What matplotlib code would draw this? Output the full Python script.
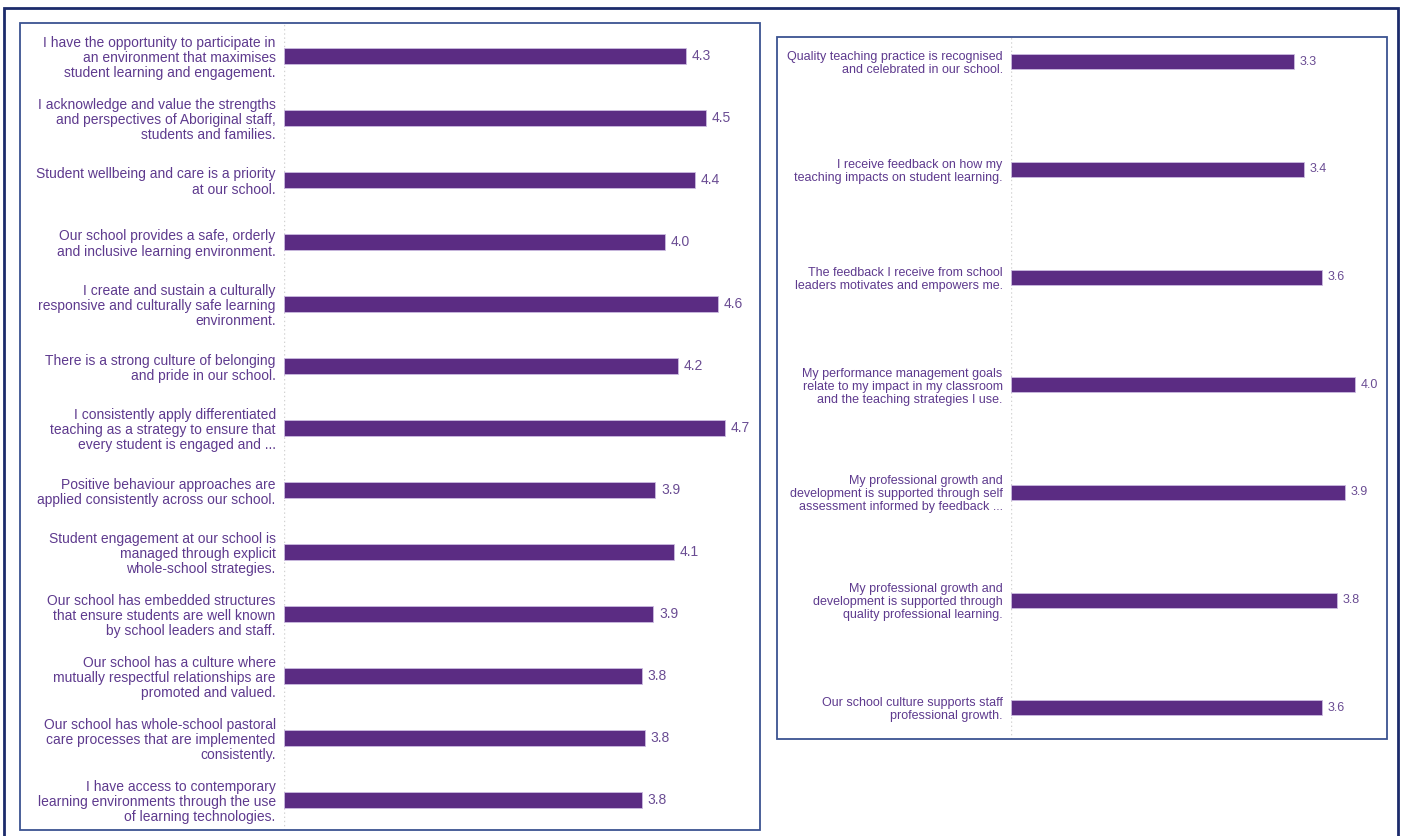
import numpy as np
import matplotlib.pyplot as plt
from matplotlib.patches import Rectangle

plt.rcParams['font.family'] = ['Liberation Sans', 'DejaVu Sans']

# left panel
left_labels = [
    "I have the opportunity to participate in\nan environment that maximises\nstudent learning and engagement.",
    "I acknowledge and value the strengths\nand perspectives of Aboriginal staff,\nstudents and families.",
    "Student wellbeing and care is a priority\nat our school.",
    "Our school provides a safe, orderly\nand inclusive learning environment.",
    "I create and sustain a culturally\nresponsive and culturally safe learning\nenvironment.",
    "There is a strong culture of belonging\nand pride in our school.",
    "I consistently apply differentiated\nteaching as a strategy to ensure that\nevery student is engaged and ...",
    "Positive behaviour approaches are\napplied consistently across our school.",
    "Student engagement at our school is\nmanaged through explicit\nwhole-school strategies.",
    "Our school has embedded structures\nthat ensure students are well known\nby school leaders and staff.",
    "Our school has a culture where\nmutually respectful relationships are\npromoted and valued.",
    "Our school has whole-school pastoral\ncare processes that are implemented\nconsistently.",
    "I have access to contemporary\nlearning environments through the use\nof learning technologies.",
]
left_values = [4.27, 4.48, 4.36, 4.04, 4.60, 4.18, 4.68, 3.94, 4.14, 3.92, 3.80, 3.83, 3.80]

# right panel
right_labels = [
    "Quality teaching practice is recognised\nand celebrated in our school.",
    "I receive feedback on how my\nteaching impacts on student learning.",
    "The feedback I receive from school\nleaders motivates and empowers me.",
    "My performance management goals\nrelate to my impact in my classroom\nand the teaching strategies I use.",
    "My professional growth and\ndevelopment is supported through self\nassessment informed by feedback ...",
    "My professional growth and\ndevelopment is supported through\nquality professional learning.",
    "Our school culture supports staff\nprofessional growth.",
]
right_values = [3.29, 3.41, 3.62, 4.00, 3.88, 3.79, 3.62]

bar_col = '#5b2c83'
txt_col = '#5e3a8e'
val_col = '#6a4c93'
box_col = '#3b5391'

W, H = 1406, 836
fig = plt.figure(figsize=(W / 100, H / 100), dpi=100)


def px_rect(x0, y0, x1, y1):
    # pixel box (top-left origin) -> figure fraction [l, b, w, h]
    return [x0 / W, 1 - y1 / H, (x1 - x0) / W, (y1 - y0) / H]


def panel(rect, labels, values, ylim, xmax, bh, fs):
    ax = fig.add_axes(px_rect(*rect))
    y = np.arange(len(labels))
    bars = ax.barh(y, values, height=bh, color=bar_col, edgecolor='#cbbbe0', linewidth=0.6)
    ax.bar_label(bars, labels=[f'{v:.1f}' for v in values], padding=4,
                 color=val_col, fontsize=fs)
    ax.axvline(0, color='#d2d2d2', lw=1, ls=(0, (1, 2)), zorder=0)
    ax.set_xlim(0, xmax)
    ax.set_ylim(*ylim)
    ax.set_yticks(y)
    ax.set_yticklabels(labels, fontsize=fs, color=txt_col, linespacing=1.1)
    ax.tick_params(axis='y', length=0, pad=6)
    ax.set_xticks([])
    for s in ax.spines.values():
        s.set_visible(False)
    ax.patch.set_alpha(0)
    return ax


panel((284, 23, 760, 830), left_labels, left_values, (12.48, -0.53), 5.05, 0.26, 10)
panel((1011, 37, 1387, 739), right_labels, right_values, (6.29, -0.23), 4.37, 0.14, 9)

# frames
for (x0, y0, x1, y1), c, lw in [((20, 23, 760, 830), box_col, 1.3),
                                ((777, 37, 1387, 739), box_col, 1.3),
                                ((4, 8, 1398, 850), '#1c2b6b', 2.0)]:
    fig.patches.append(Rectangle((x0 / W, 1 - y1 / H), (x1 - x0) / W, (y1 - y0) / H,
                                 transform=fig.transFigure, fill=False,
                                 edgecolor=c, linewidth=lw))

fig.savefig('out.png', dpi=100)
